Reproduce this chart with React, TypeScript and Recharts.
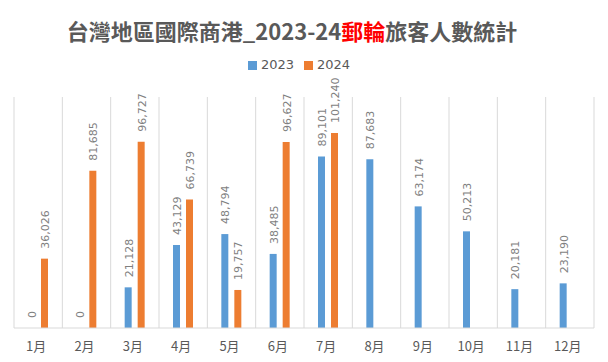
import React from 'react';
import { BarChart, Bar, XAxis, YAxis, CartesianGrid, Legend, LabelList } from 'recharts';

const months = ['1月', '2月', '3月', '4月', '5月', '6月', '7月', '8月', '9月', '10月', '11月', '12月'];
const passengers2023 = [0, 0, 21128, 43129, 48794, 38485, 89101, 87683, 63174, 50213, 20181, 23190];
const passengers2024: (number | null)[] = [36026, 81685, 96727, 66739, 19757, 96627, 101240, null, null, null, null, null];

const BLUE = '#5B9BD5';
const ORANGE = '#ED7D31';
const CJK = '"Noto Sans CJK TC", "Noto Sans", sans-serif';

// rotated value label sitting above each bar
const RotatedLabel = (props: any) => {
  const { x, y, width, height, value } = props;
  if (value === null || value === undefined) return null;
  const cx = Number(x) + Number(width) / 2 + 1;
  const top = Math.min(Number(y), Number(y) + Number(height || 0));
  const ty = top - 10;
  return (
    <text
      x={cx}
      y={ty}
      transform={`rotate(-90 ${cx} ${ty})`}
      textAnchor="start"
      dominantBaseline="central"
      fill="#7f7f7f"
      fontSize={11}
      fontFamily="DejaVu Sans"
    >
      {Number(value).toLocaleString('en-US')}
    </text>
  );
};

const App: React.FC = () => {
  const data = months.map((m, i) => ({
    name: m,
    y2023: passengers2023[i],
    y2024: passengers2024[i],
  }));

  return (
    <div style={{ position: 'absolute', left: 0, top: 0, width: 608, height: 362, background: '#fff' }}>
      <div
        style={{
          position: 'absolute',
          left: 0,
          top: 14,
          width: 584,
          textAlign: 'center',
          fontFamily: CJK,
          fontSize: 22,
          fontWeight: 'bold',
          color: '#595959',
          lineHeight: '32px',
        }}
      >
        台灣地區國際商港_2023-24<span style={{ color: '#ff0000' }}>郵輪</span>旅客人數統計
      </div>
      <BarChart
        width={608}
        height={362}
        data={data}
        margin={{ top: 82, right: 14, bottom: 4, left: 14 }}
        barSize={7}
        barGap={6}
      >
        <CartesianGrid
          horizontal={false}
          stroke="#d9d9d9"
          verticalCoordinatesGenerator={({ offset }: any) =>
            Array.from({ length: months.length + 1 }, (_, i) => offset.left + (i * offset.width) / months.length)
          }
        />
        <XAxis
          dataKey="name"
          tickLine={false}
          axisLine={{ stroke: '#d9d9d9' }}
          tick={{ fill: '#595959', fontSize: 13, fontFamily: CJK, dy: 6, dx: -2 }}
          height={30}
          interval={0}
        />
        <YAxis hide domain={[0, 120000]} />
        <Legend
          verticalAlign="top"
          align="center"
          iconType="square"
          iconSize={9}
          wrapperStyle={{ top: 57, fontFamily: 'DejaVu Sans', fontSize: 13 }}
          formatter={(value) => <span style={{ color: '#595959' }}>{value}</span>}
        />
        <Bar dataKey="y2023" name="2023" fill={BLUE} minPointSize={0.01} isAnimationActive={false}>
          <LabelList dataKey="y2023" content={RotatedLabel} />
        </Bar>
        <Bar dataKey="y2024" name="2024" fill={ORANGE} isAnimationActive={false}>
          <LabelList dataKey="y2024" content={RotatedLabel} />
        </Bar>
      </BarChart>
    </div>
  );
};

export default App;
